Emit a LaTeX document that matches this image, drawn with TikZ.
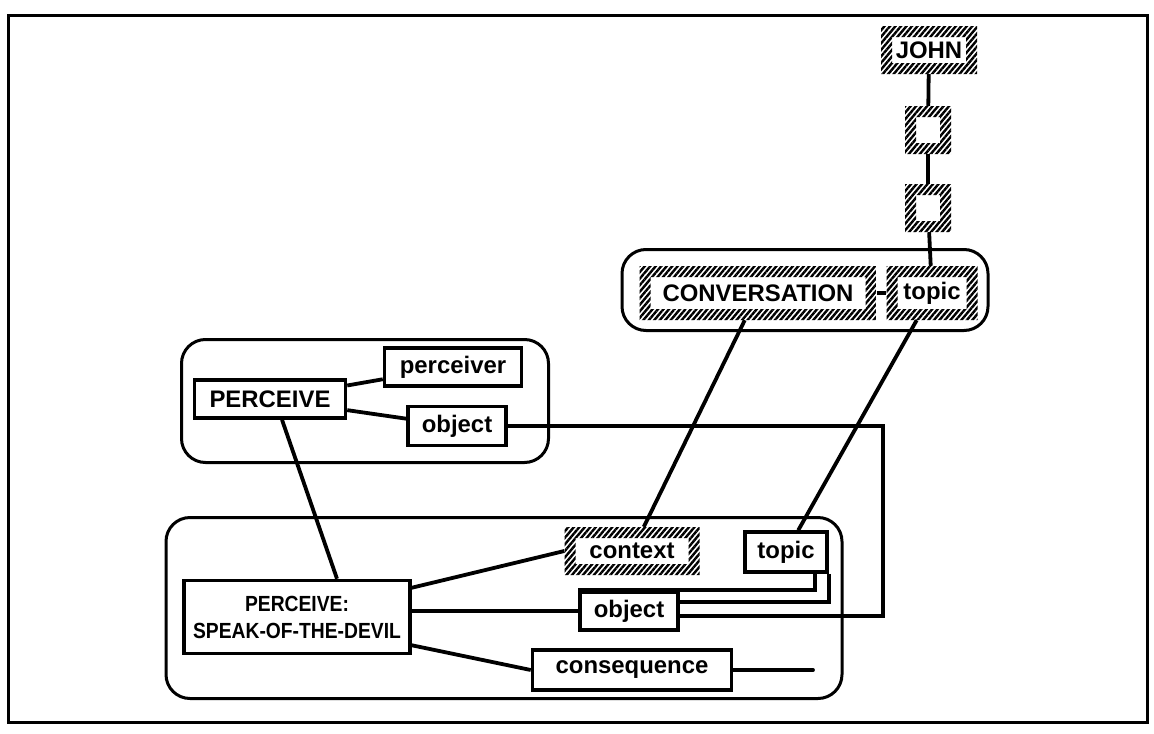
\documentclass[tikz,border=0pt]{standalone}
\usepackage{fontspec}
\setmainfont{Liberation Sans}
\newfontfamily\narrowsans[FakeStretch=0.88]{Liberation Sans}
\usetikzlibrary{patterns.meta}

\tikzset{
  slot/.style={draw,line width=3.5bp,fill=white,inner sep=0pt,font=\bfseries\fontsize{24}{27}\selectfont},
  hatched/.style={fill=white,inner sep=0pt,font=\bfseries\fontsize{24}{27}\selectfont,
    path picture={\fill[pattern={Lines[angle=50,distance=4.2bp,line width=2.4bp]},even odd rule]
      (path picture bounding box.south west) rectangle (path picture bounding box.north east)
      ([shift={(11bp,11bp)}]path picture bounding box.south west) rectangle ([shift={(-11bp,-11bp)}]path picture bounding box.north east);}},
  group/.style={draw,line width=3bp,rounded corners=24bp,inner sep=0pt},
  link/.style={line width=3.8bp}
}

\begin{document}
\begin{tikzpicture}

\useasboundingbox (0bp,0bp) rectangle (1154bp,-734bp);
\draw [line width=3bp] (8bp,-15bp) rectangle (1147bp,-722bp);

\node (convgroup) at (805bp,-290bp)[group,minimum width=366bp,minimum height=81bp] {};
\node (percgroup) at (365bp,-401bp)[group,minimum width=367bp,minimum height=123bp] {};
\node (devilgroup) at (504bp,-608bp)[group,minimum width=676bp,minimum height=181bp] {};

\node (john) at (929bp,-50bp)[hatched,minimum width=96bp,minimum height=48bp] {JOHN};
\node (slotA) at (928bp,-130bp)[hatched,minimum width=46bp,minimum height=48bp] {};
\node (slotB) at (928bp,-208bp)[hatched,minimum width=46bp,minimum height=48bp] {};
\node (conv) at (758bp,-293bp)[hatched,minimum width=237bp,minimum height=54bp] {CONVERSATION};
\node (convtopic) at (932bp,-293bp)[hatched,minimum width=91bp,minimum height=54bp] {topic};

\node (perceive) at (270bp,-399bp)[slot,minimum width=151bp,minimum height=38bp] {PERCEIVE};
\node (perceiver) at (453bp,-367bp)[slot,minimum width=137bp,minimum height=38bp] {perceiver};
\node (object) at (457bp,-426bp)[slot,minimum width=98bp,minimum height=39bp] {object};

\node (devil) at (297bp,-617bp)[slot,align=center,minimum width=226bp,minimum height=73bp,font=\narrowsans\bfseries\fontsize{22}{27}\selectfont] {PERCEIVE:\\SPEAK-OF-THE-DEVIL};
\node (context) at (632bp,-551bp)[hatched,minimum width=135bp,minimum height=48bp] {context};
\node (topic) at (786bp,-552bp)[slot,minimum width=82bp,minimum height=40bp] {topic};
\node (devilobject) at (629bp,-611bp)[slot,minimum width=98bp,minimum height=38bp] {object};
\node (consequence) at (632bp,-670bp)[slot,minimum width=199bp,minimum height=40bp] {consequence};

\coordinate (bend) at (883bp,-426bp);
\coordinate (tail) at (813bp,-670bp);

\draw [link] (john) -- (slotA);
\draw [link] (slotA) -- (slotB);
\draw [link] (slotB) -- (convtopic);
\draw [link] (conv) -- (convtopic);
\draw [link] (conv) -- (context);
\draw [link] (convtopic) -- (topic);
\draw [link] (perceive) -- (perceiver);
\draw [link] (perceive) -- (object);
\draw [link] ([xshift=12bp]perceive.south) -- ([xshift=40bp]devil.north);
\draw [link] (object.east) -- (bend) |- ([yshift=-5bp]devilobject.east);
\draw [link] ([yshift=-9bp]devil.north east) -- (context.west);
\draw [link] (devilobject.west -| devil.east) -- (devilobject.west);
\draw [link] ([yshift=10bp]devil.south east) -- (consequence.west);
\draw [link,line cap=round] (consequence.east) -- (tail);
\draw [link] ([xshift=-14bp]topic.south east) |- (devilobject.north west);
\draw [link] (topic.south east) |- ([yshift=9bp]devilobject.east);

\end{tikzpicture}
\end{document}
